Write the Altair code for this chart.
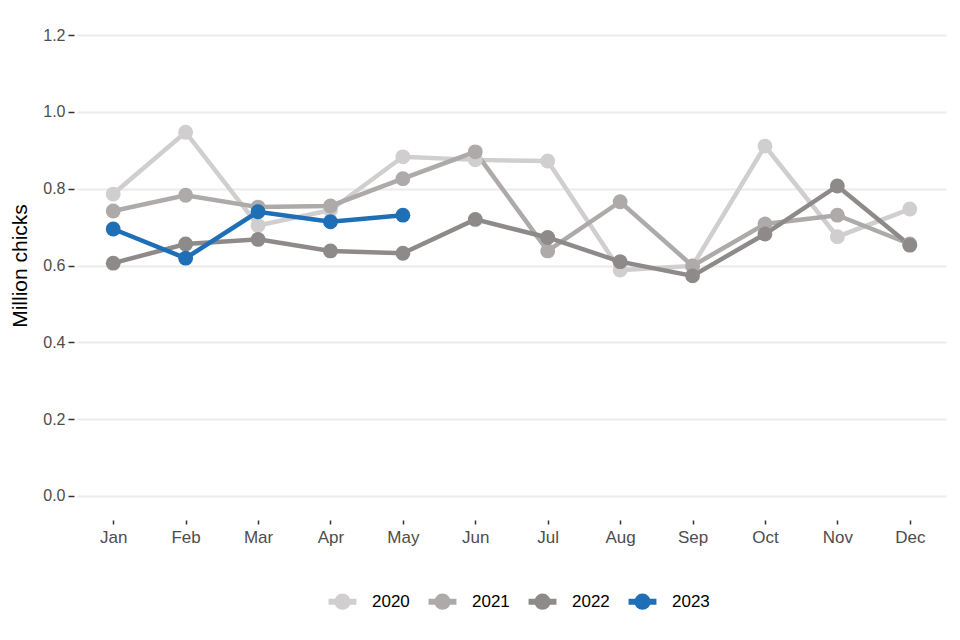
import altair as alt
import pandas as pd

months = ["Jan", "Feb", "Mar", "Apr", "May", "Jun", "Jul", "Aug", "Sep", "Oct", "Nov", "Dec"]
years = ["2020", "2021", "2022", "2023"]
v2020 = [0.786, 0.947, 0.704, 0.744, 0.883, 0.875, 0.872, 0.588, 0.599, 0.911, 0.675, 0.747]
v2021 = [0.742, 0.783, 0.752, 0.755, 0.826, 0.896, 0.638, 0.766, 0.599, 0.708, 0.731, 0.656]
v2022 = [0.606, 0.656, 0.668, 0.638, 0.632, 0.720, 0.673, 0.610, 0.573, 0.682, 0.807, 0.653]
v2023 = [0.695, 0.619, 0.740, 0.714, 0.731]
colors = ["#d0cece", "#aeaaaa", "#8e8a8a", "#1f6fb7"]

rows = []
for y, vals in zip(years, [v2020, v2021, v2022, v2023]):
    for m, v in zip(months, vals):
        rows.append({"month": m, "year": y, "value": v})
df = pd.DataFrame(rows)

legend_symbol = "M-0.9,0H-0.33A0.33,0.33,0,0,1,0.33,0H0.9M0.33,0A0.33,0.33,0,0,1,-0.33,0Z"

chart = alt.Chart(df).mark_line(
    strokeWidth=4.5,
    point=alt.OverlayMarkDef(filled=True, size=220, opacity=1),
).encode(
    x=alt.X("month:N", sort=months, title=None,
            scale=alt.Scale(paddingOuter=0.52),
            axis=alt.Axis(labelAngle=0, labelFontSize=17, labelColor="#4d4d4d",
                          tickColor="#333333", tickSize=4, tickWidth=1.5, offset=1,
                          labelPadding=5, domain=False, grid=False)),
    y=alt.Y("value:Q", title="Million chicks",
            scale=alt.Scale(domain=[-0.06, 1.26], nice=False, zero=False),
            axis=alt.Axis(values=[0, 0.2, 0.4, 0.6, 0.8, 1.0, 1.2], format=".1f",
                          labelFontSize=16, labelColor="#4d4d4d",
                          tickColor="#333333", tickSize=6, tickWidth=1.5, offset=3,
                          labelPadding=3, domain=False, grid=True,
                          gridColor="#ebebeb", gridWidth=2,
                          titleFontSize=21, titleFontWeight="normal", titleColor="#000000",
                          titlePadding=12)),
    color=alt.Color("year:N", sort=years,
                    scale=alt.Scale(domain=years, range=colors),
                    legend=alt.Legend(title=None, orient="none", direction="horizontal",
                                      legendX=247, legendY=571,
                                      symbolType=legend_symbol, symbolSize=960,
                                      symbolStrokeWidth=6, labelFontSize=17,
                                      labelColor="#000000", labelOffset=11,
                                      columnPadding=6)),
    order=alt.Order("year:N"),
).properties(
    width=869, height=507,
    padding={"left": 69, "top": 4, "right": 6, "bottom": 113},
    autosize=alt.AutoSizeParams(type="none"),
).configure(
    font="Liberation Sans"
).configure_view(strokeWidth=0, stroke="transparent")

chart.save("out.html", embed_options={"renderer": "svg", "actions": False})
